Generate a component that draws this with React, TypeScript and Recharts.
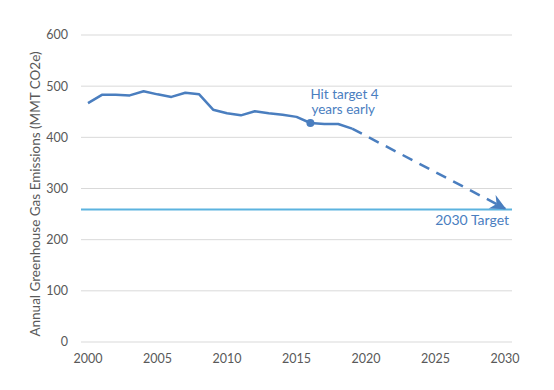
import React from "react"
import {
  CartesianGrid,
  Line,
  LineChart,
  ReferenceDot,
  ReferenceLine,
  XAxis,
  YAxis,
} from "recharts"

document.body.style.margin = "0"

const years = Array.from({ length: 31 }, (_, i) => 2000 + i)

// actual emissions 2000-2019
const actual = [
  467, 483, 483, 482, 490, 484, 479, 487, 484, 454, 447, 443, 451, 447, 444,
  440, 428, 426, 426, 417,
]

// projected path: 2019 -> 2030
const projectedYears = [2019, 2030]
const projectedValues = [417, 261]

const target = 259
const yTicks = [0, 100, 200, 300, 400, 500, 600]
const xTicks = [2000, 2005, 2010, 2015, 2020, 2025, 2030]

const BLUE = "#4a7ebf"
const TARGET_BLUE = "#5cb3df"
const GREY = "#595959"
const FONT = "Lato, 'Open Sans', sans-serif"

const data = years.map((year, i) => {
  const p = projectedYears.indexOf(year)
  return {
    year,
    actual: i < actual.length ? actual[i] : null,
    projected: p >= 0 ? projectedValues[p] : null,
  }
})

function ArrowDot(props: any) {
  const { cx, cy, payload } = props
  if (payload.year !== 2030 || cy == null) return <g key={`a-${payload.year}`} />
  // arrow head pointing along the dashed line
  const a = (27.5 * Math.PI) / 180
  const ux = Math.cos(a)
  const uy = Math.sin(a)
  const tipX = cx + ux * 1.5
  const tipY = cy + uy * 1.5
  const pt = (back: number, side: number) =>
    `${tipX - ux * back - uy * side},${tipY - uy * back + ux * side}`
  const pts = [pt(0, 0), pt(16, -7.5), pt(11, 0), pt(16, 7.5)].join(" ")
  return <polygon key="arrow" points={pts} fill={BLUE} />
}

export default function App() {
  return (
    <LineChart
      width={554}
      height={390}
      data={data}
      margin={{ top: 35, right: 42, bottom: 18, left: 0 }}
    >
      <CartesianGrid vertical={false} stroke="#d9d9d9" strokeWidth={1} />
      <XAxis
        dataKey="year"
        ticks={xTicks}
        interval={0}
        height={30}
        padding={{ left: 7, right: 7 }}
        axisLine={false}
        tickLine={false}
        tickMargin={6}
        tick={{ fill: GREY, fontSize: 12.5, fontFamily: FONT }}
      />
      <YAxis
        width={81}
        domain={[0, 600]}
        ticks={yTicks}
        axisLine={false}
        tickLine={false}
        tickMargin={7}
        tick={{ fill: GREY, fontSize: 12.5, fontFamily: FONT }}
        label={{
          content: () => (
            <text
              x={35}
              y={194}
              transform="rotate(-90, 35, 194)"
              textAnchor="middle"
              dominantBaseline="central"
              fill={GREY}
              fontSize={13.5}
              fontFamily={FONT}
            >
              Annual Greenhouse Gas Emissions (MMT CO2e)
            </text>
          ),
        }}
      />
      <ReferenceLine
        y={target}
        stroke={TARGET_BLUE}
        strokeWidth={2}
        label={{
          content: (p: any) => (
            <text
              x={p.viewBox.x + p.viewBox.width - 3}
              y={p.viewBox.y + 16}
              textAnchor="end"
              fill={BLUE}
              fontSize={14}
              fontFamily={FONT}
            >
              2030 Target
            </text>
          ),
        }}
      />
      <Line
        dataKey="projected"
        stroke={BLUE}
        strokeWidth={2.5}
        strokeDasharray="11 8"
        connectNulls
        dot={ArrowDot}
        activeDot={false}
        isAnimationActive={false}
      />
      <Line
        dataKey="actual"
        stroke={BLUE}
        strokeWidth={2.5}
        strokeLinejoin="round"
        dot={false}
        activeDot={false}
        isAnimationActive={false}
      />
      <ReferenceDot
        x={2016}
        y={428}
        r={4}
        fill={BLUE}
        stroke="none"
        label={{
          content: (p: any) => (
            <text fill={BLUE} fontSize={13.5} fontFamily={FONT}>
              <tspan x={p.viewBox.x + p.viewBox.width / 2} y={99}>
                Hit target 4
              </tspan>
              <tspan x={p.viewBox.x + p.viewBox.width / 2 + 1} y={114}>
                years early
              </tspan>
            </text>
          ),
        }}
      />
    </LineChart>
  )
}
